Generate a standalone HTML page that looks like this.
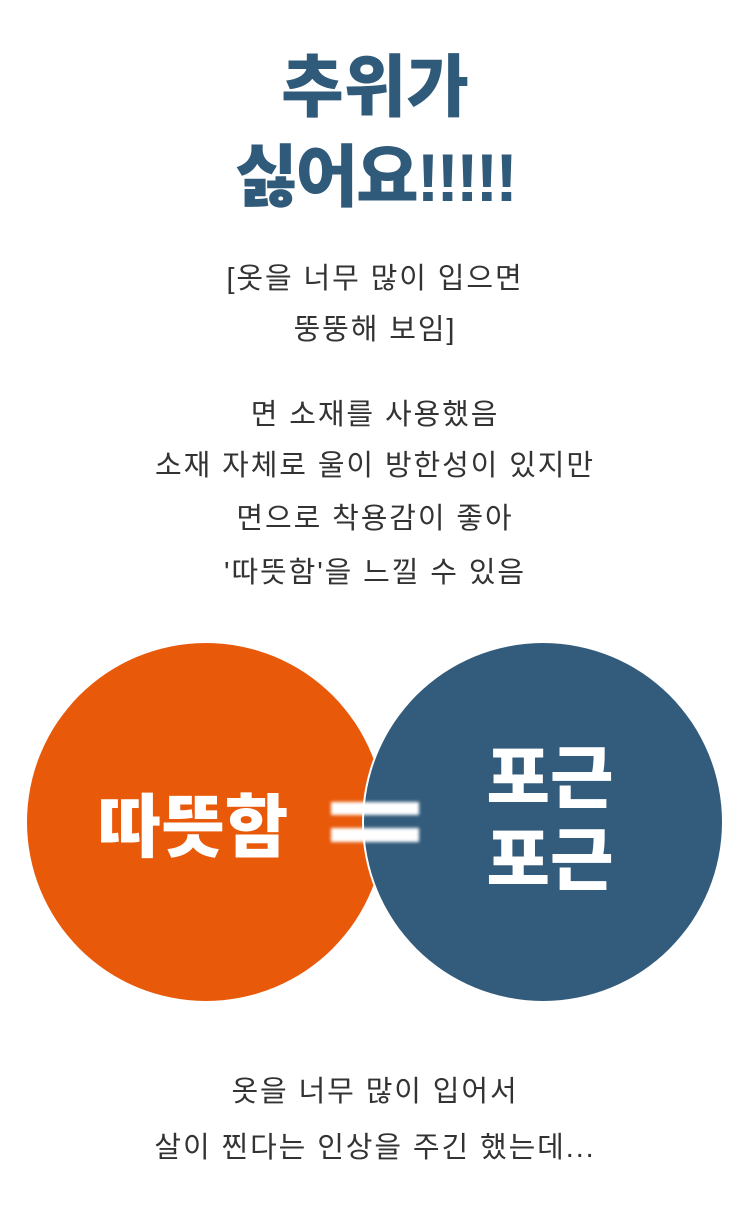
<!DOCTYPE html>
<html><head><meta charset="utf-8"><style>
body{margin:0;width:750px;height:1222px;background:#fff;position:relative;overflow:hidden;font-family:"Liberation Sans","Noto Sans CJK KR",sans-serif;}
.t{position:absolute;left:0;width:750px;text-align:center;white-space:nowrap;}
.h{font-size:68px;font-weight:900;color:#2f5a7a;line-height:80px;}
.b{font-size:29px;color:#333;line-height:34px;letter-spacing:1.9px;}
.c{position:absolute;border-radius:50%;}
.w{position:absolute;color:#fff;font-weight:900;text-align:center;white-space:nowrap;}
</style></head><body>
<div class="t h" style="top:48px">추위가</div>
<div class="t h" style="top:138px;letter-spacing:-2px">싫어요<span style="letter-spacing:-3px">!!!!!</span></div>
<div class="t b" style="top:262px">[옷을 너무 많이 입으면</div>
<div class="t b" style="top:313px">뚱뚱해 보임]</div>
<div class="t b" style="top:398px">면 소재를 사용했음</div>
<div class="t b" style="top:449px">소재 자체로 울이 방한성이 있지만</div>
<div class="t b" style="top:502px">면으로 착용감이 좋아</div>
<div class="t b" style="top:556px">'따뜻함'을 느낄 수 있음</div>
<div class="c" style="left:27px;top:643px;width:358px;height:358px;background:#e8590a"></div>
<div class="c" style="left:362px;top:641px;width:362px;height:362px;background:#fff"></div>
<div class="c" style="left:364px;top:643px;width:358px;height:358px;background:#335b7b"></div>
<div class="w" style="left:73px;top:788px;width:240px;font-size:69px;line-height:80px">따뜻함</div>
<div style="position:absolute;left:331px;top:802px;width:88px;height:13px;background:#fff;filter:blur(1.5px)"></div>
<div style="position:absolute;left:331px;top:828px;width:88px;height:14px;background:#fff;filter:blur(1.5px)"></div>
<div class="w" style="left:450px;top:739px;width:200px;font-size:69px;line-height:80px">포근</div>
<div class="w" style="left:450px;top:821px;width:200px;font-size:69px;line-height:80px">포근</div>
<div class="t b" style="top:1075px">옷을 너무 많이 입어서</div>
<div class="t b" style="top:1131px">살이 찐다는 인상을 주긴 했는데...</div>
</body></html>
